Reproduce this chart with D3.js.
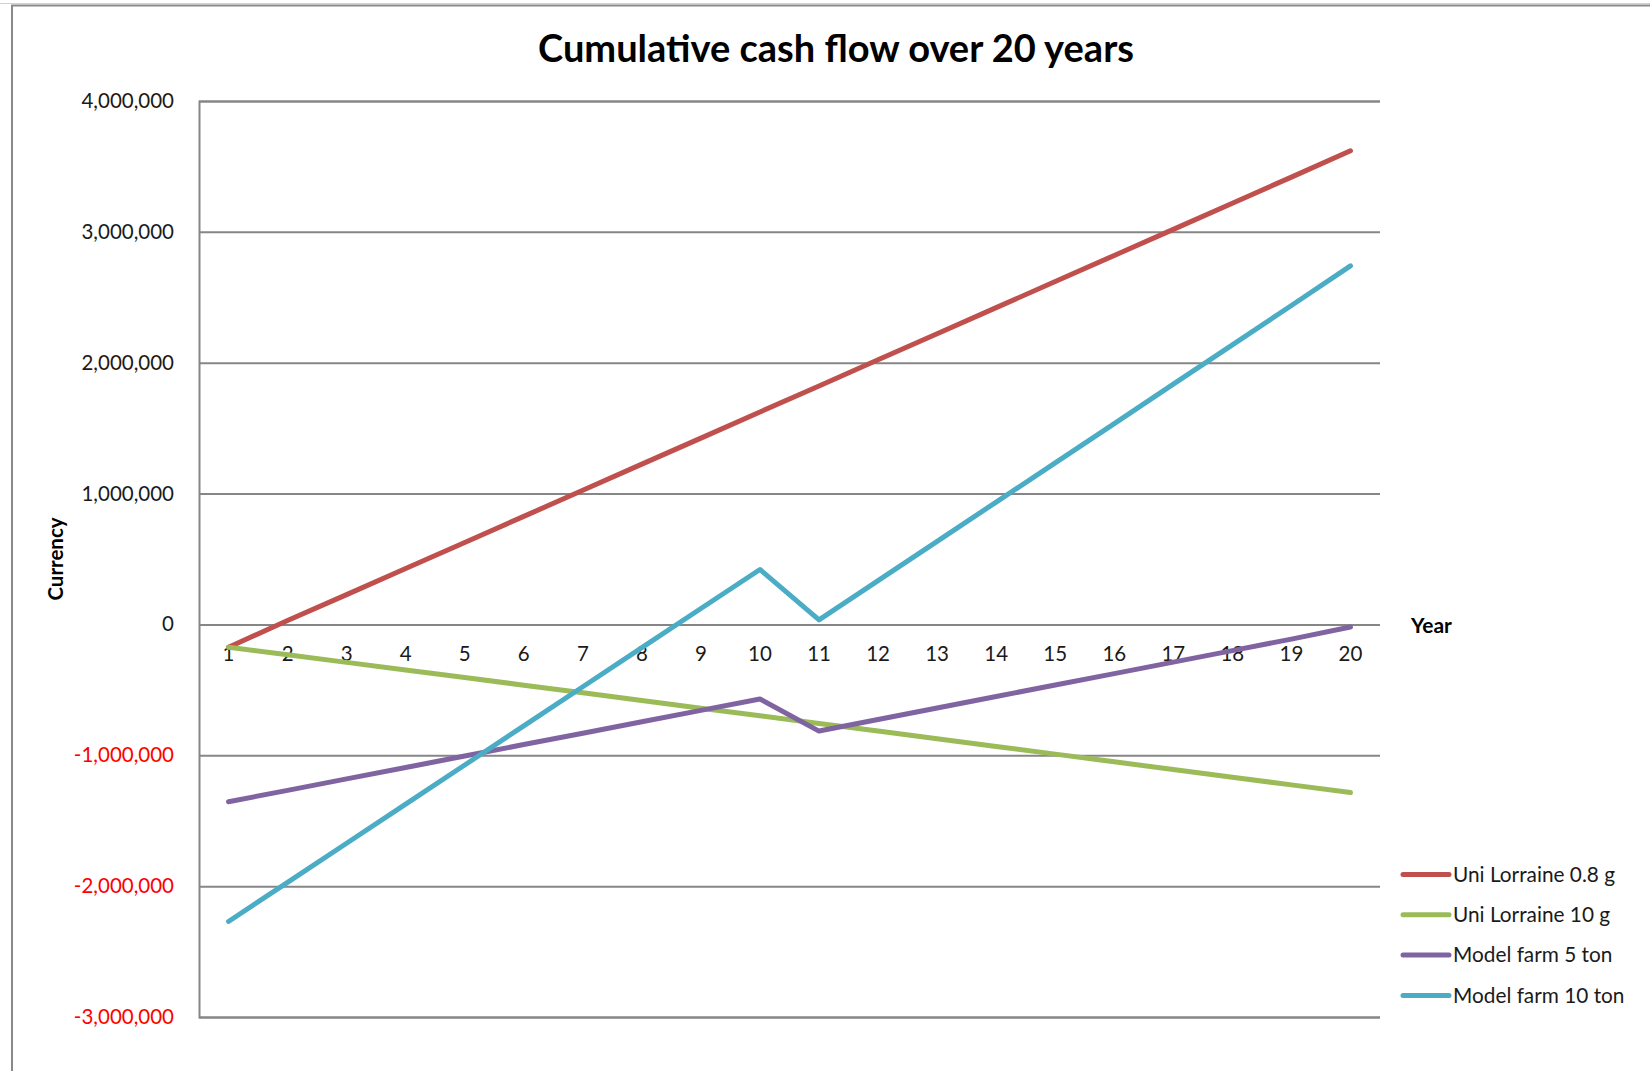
<!DOCTYPE html>
<html>
<head>
<meta charset="utf-8">
<script src="https://cdn.jsdelivr.net/npm/d3@7"></script>
<style>
  html, body { margin: 0; padding: 0; background: #fff; }
  svg { display: block; font-family: Lato, "Open Sans", sans-serif; }
</style>
</head>
<body>
<svg id="chart" width="1650" height="1071"></svg>
<script>
// Years on the category axis
const years = ["1","2","3","4","5","6","7","8","9","10","11","12","13","14","15","16","17","18","19","20"];

// Cumulative cash flow per scenario
const uniLorraine08 = [-175000, 30000, 228000, 428000, 626000, 826000, 1025000, 1225000, 1424000, 1624000,
                       1822000, 2022000, 2221000, 2421000, 2620000, 2820000, 3019000, 3219000, 3418000, 3620000];
const uniLorraine10 = [-175000, -232000, -290000, -348000, -406000, -464000, -522000, -581000, -640000, -698000,
                       -757000, -815000, -874000, -933000, -991000, -1050000, -1109000, -1168000, -1226000, -1285000];
const modelFarm5 = [-1355000, -1268000, -1180000, -1093000, -1006000, -918000, -831000, -744000, -657000, -570000,
                    -815000, -727000, -639000, -551000, -463000, -376000, -288000, -200000, -112000, -20000];
const modelFarm10 = [-2270000, -1971000, -1672000, -1373000, -1074000, -775000, -476000, -177000, 122000, 420000,
                     35000, 335000, 635000, 935000, 1235000, 1535000, 1836000, 2136000, 2437000, 2740000];

const seriesNames = ["Uni Lorraine 0.8 g", "Uni Lorraine 10 g", "Model farm 5 ton", "Model farm 10 ton"];
const seriesColors = ["#c0504d", "#9bbb59", "#8064a2", "#4bacc6"];
const yTicks = [-3000000, -2000000, -1000000, 0, 1000000, 2000000, 3000000, 4000000];

const series = [uniLorraine08, uniLorraine10, modelFarm5, modelFarm10].map((vals, i) => ({
  name: seriesNames[i], color: seriesColors[i], values: vals
}));

const svg = d3.select("#chart");
const plot = { left: 199, right: 1380, top: 101, bottom: 1017 };

// Chart frame
svg.append("line").attr("x1", 0).attr("x2", 1650).attr("y1", 3.5).attr("y2", 3.5)
  .attr("stroke", "#c9d3da").attr("stroke-width", 1);
svg.append("path").attr("d", "M12,1071V5.5H1650")
  .attr("fill", "none").attr("stroke", "#8a8a8a").attr("stroke-width", 2);

const x = d3.scaleBand().domain(years).range([plot.left, plot.right]).padding(0);
const y = d3.scaleLinear().domain([-3000000, 4000000]).range([plot.bottom, plot.top]);

// Thousands separators with a plain hyphen for negatives
const fmt = d => d3.format(",")(d).replace("\u2212", "-");

// Value axis with horizontal gridlines
const yAxis = svg.append("g")
  .attr("transform", `translate(${plot.left},0)`)
  .call(d3.axisLeft(y).tickValues(yTicks).tickSize(-(plot.right - plot.left))
    .tickPadding(25).tickFormat(fmt));
yAxis.select(".domain").attr("stroke", "#868686").attr("stroke-width", 2);
yAxis.selectAll(".tick line").attr("stroke", "#868686").attr("stroke-width", 2);
yAxis.selectAll(".tick text")
  .attr("font-size", 20.5)
  .attr("font-family", "Lato, sans-serif")
  .attr("fill", d => d < 0 ? "#ff0000" : "#1a1a1a");

// Category axis labels sit just below the zero line
const xAxis = svg.append("g")
  .attr("transform", `translate(0,${y(0)})`)
  .call(d3.axisBottom(x).tickSize(0).tickPadding(22));
xAxis.select(".domain").remove();
xAxis.selectAll(".tick text")
  .attr("font-size", 20.5)
  .attr("font-family", "Lato, sans-serif")
  .attr("fill", "#1a1a1a");

// Series lines
const line = d3.line()
  .x((d, i) => x(years[i]) + x.bandwidth() / 2)
  .y(d => y(d));

svg.append("g").selectAll("path")
  .data(series)
  .join("path")
  .attr("d", d => line(d.values))
  .attr("fill", "none")
  .attr("stroke", d => d.color)
  .attr("stroke-width", 5)
  .attr("stroke-linecap", "round")
  .attr("stroke-linejoin", "round");

// Title and axis titles
svg.append("text")
  .attr("x", 836).attr("y", 62)
  .attr("text-anchor", "middle")
  .attr("font-size", 38).attr("font-weight", "bold")
  .attr("fill", "#000")
  .text("Cumulative cash flow over 20 years");

svg.append("text")
  .attr("transform", "translate(63,559) rotate(-90)")
  .attr("text-anchor", "middle")
  .attr("font-size", 20.5).attr("font-weight", "bold")
  .attr("fill", "#000")
  .text("Currency");

svg.append("text")
  .attr("x", 1411).attr("y", 633)
  .attr("font-size", 21).attr("font-weight", "bold")
  .attr("fill", "#000")
  .text("Year");

// Legend
const legend = svg.append("g").selectAll("g")
  .data(series)
  .join("g")
  .attr("transform", (d, i) => `translate(1403,${874.5 + i * 40.3})`);
legend.append("line")
  .attr("x1", 0).attr("x2", 46)
  .attr("stroke", d => d.color).attr("stroke-width", 5)
  .attr("stroke-linecap", "round");
legend.append("text")
  .attr("x", 50).attr("dy", "0.35em")
  .attr("font-size", 20.8)
  .attr("fill", "#1a1a1a")
  .text(d => d.name);
</script>
</body>
</html>
